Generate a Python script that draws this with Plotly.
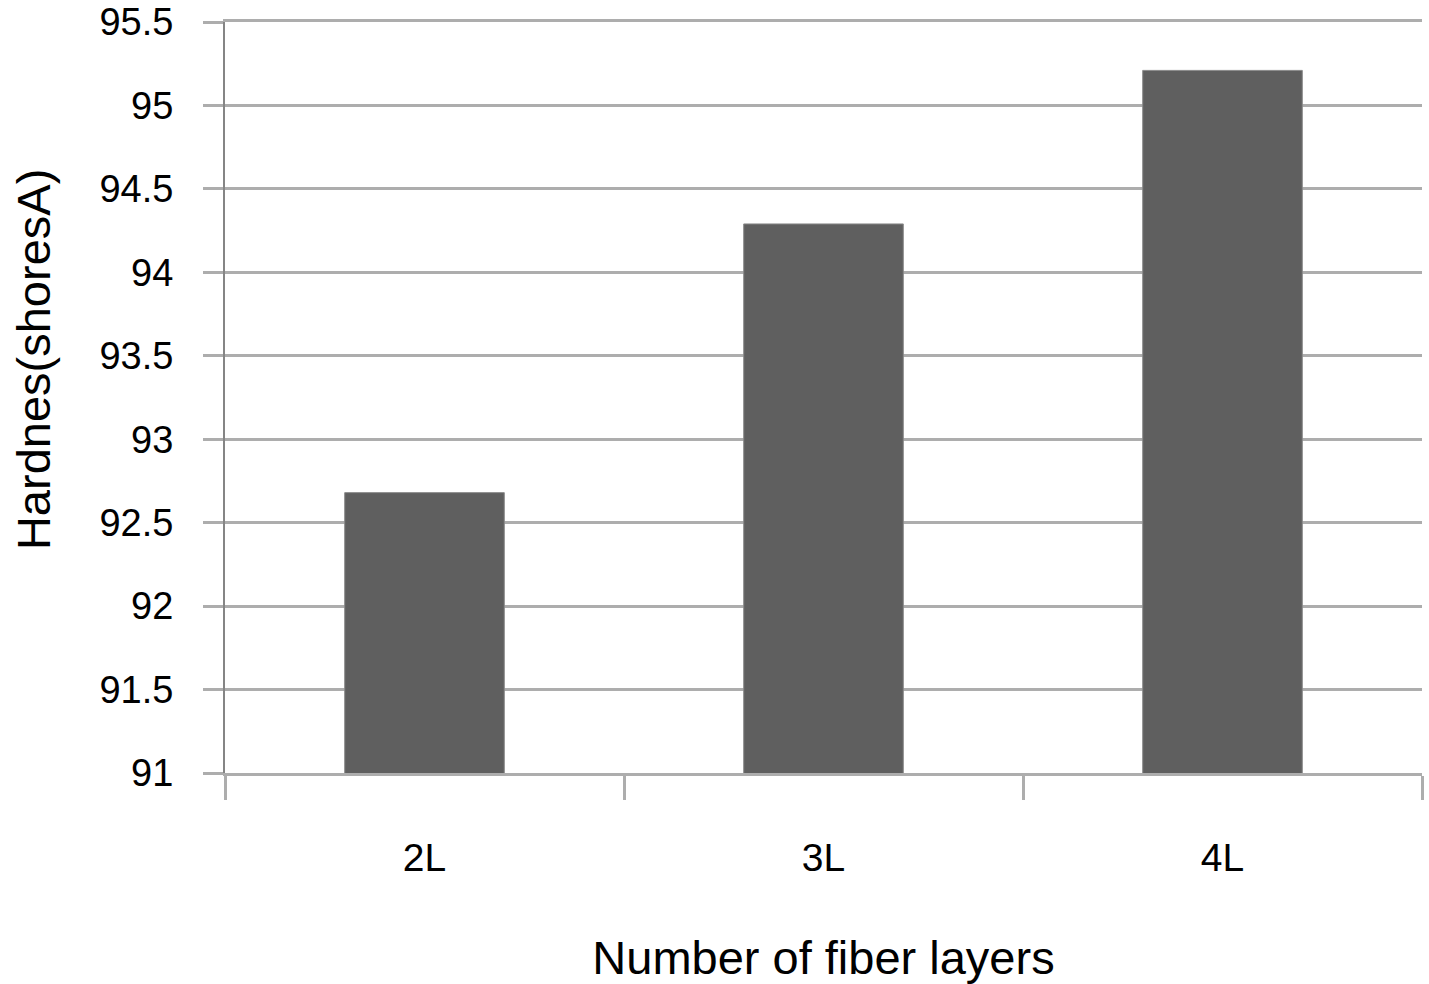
import plotly.graph_objects as go

categories = ["2L", "3L", "4L"]
hardness = [92.68, 94.29, 95.21]
y_ticks = [91, 91.5, 92, 92.5, 93, 93.5, 94, 94.5, 95, 95.5]
y_tick_labels = ["91", "91.5", "92", "92.5", "93", "93.5", "94", "94.5", "95", "95.5"]

FONT = "Liberation Sans, Arial, Helvetica, sans-serif"

fig = go.Figure(
    go.Bar(
        x=categories,
        y=hardness,
        marker=dict(color="#5f5f5f", line=dict(color="#8a8a8a", width=1)),
        width=0.4,
    )
)

fig.update_layout(
    width=1429,
    height=984,
    paper_bgcolor="white",
    plot_bgcolor="white",
    margin=dict(l=225, r=7, t=22, b=211),
    showlegend=False,
    font=dict(family=FONT, color="black"),
    annotations=[
        dict(
            text="Hardnes(shoresA)",
            xref="paper", yref="paper",
            x=-0.1605, y=0.551,
            xanchor="center", yanchor="middle",
            textangle=-90,
            showarrow=False,
            font=dict(size=47, family=FONT, color="black"),
        )
    ],
)

fig.update_yaxes(
    range=[91, 95.5],
    tickvals=y_ticks,
    ticktext=y_tick_labels,
    tickfont=dict(size=38, family=FONT, color="black"),
    showgrid=True,
    gridcolor="#adadad",
    gridwidth=3,
    zeroline=False,
    showline=True,
    linecolor="#858585",
    linewidth=2,
    ticks="outside",
    ticklen=20,
    tickwidth=3,
    tickcolor="#adadad",
    ticklabelstandoff=22,
    ticklabeloverflow="allow",
    automargin=False,
)

fig.update_xaxes(
    tickson="boundaries",
    ticks="outside",
    ticklen=24,
    tickwidth=3,
    tickcolor="#adadad",
    showline=True,
    mirror=True,
    linecolor="#adadad",
    linewidth=3,
    showgrid=False,
    tickfont=dict(size=39, family=FONT, color="black"),
    ticklabelstandoff=48,
    title=dict(text="Number of fiber layers", font=dict(size=47, family=FONT, color="black"), standoff=68),
    automargin=False,
)

fig.write_html(
    "out.html",
    config={"displayModeBar": False},
    post_script="document.body.style.margin='0';",
)
